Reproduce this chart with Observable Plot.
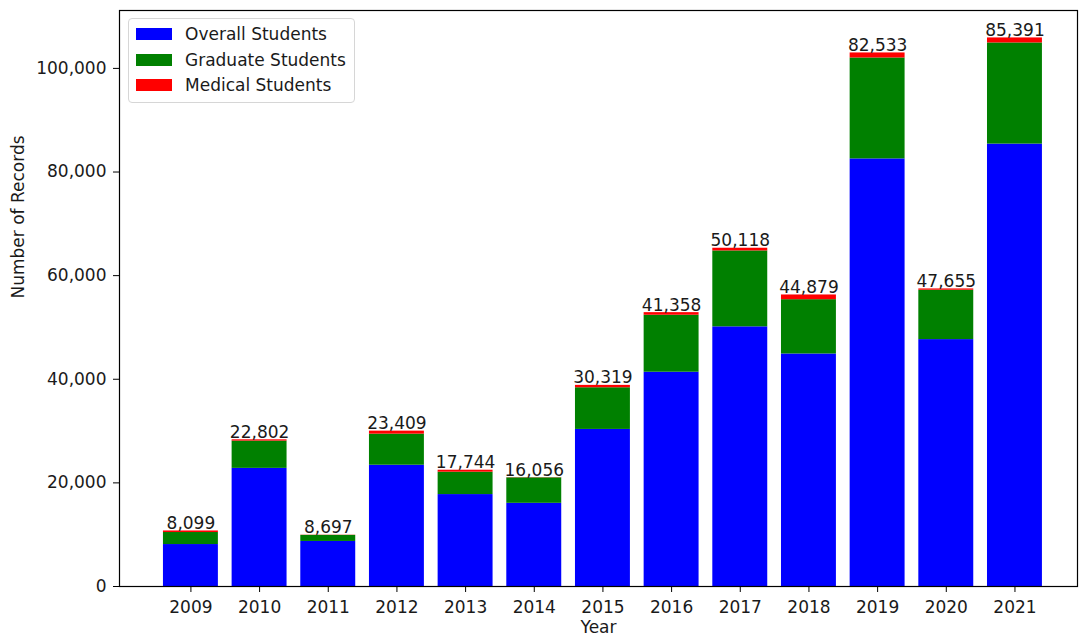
<!DOCTYPE html>
<html>
<head>
<meta charset="utf-8">
<script src="https://cdn.jsdelivr.net/npm/d3@7"></script>
<script src="https://cdn.jsdelivr.net/npm/@observablehq/plot@0.6"></script>
<style>
  body { margin: 0; background: #fff; font-family: "DejaVu Sans", sans-serif; }
  #wrap { position: relative; width: 1079px; height: 640px; }
  .legend { position: absolute; left: 128px; top: 18px; width: 227px; height: 85px;
    border: 1px solid #d6d6d6; border-radius: 4px; background: rgba(255,255,255,0.85); box-sizing: border-box; }
  .item { position: absolute; left: 7px; height: 20px; display: flex; align-items: center;
    font-size: 17px; color: #1a1a1a; white-space: nowrap; }
  .sw { width: 36px; height: 12px; margin-right: 13px; }
</style>
</head>
<body>
<div id="wrap"></div>
<script>
const years = [2009, 2010, 2011, 2012, 2013, 2014, 2015, 2016, 2017, 2018, 2019, 2020, 2021];
const overall = [8099, 22802, 8697, 23409, 17744, 16056, 30319, 41358, 50118, 44879, 82533, 47655, 85391];
const graduate = [2320, 5260, 1170, 6000, 4320, 4910, 8040, 11000, 14650, 10480, 19480, 9530, 19520];
const medical = [300, 250, 40, 580, 380, 40, 460, 500, 520, 910, 970, 250, 970];
const seriesNames = ["Overall Students", "Graduate Students", "Medical Students"];
const seriesColors = ["#0000ff", "#008000", "#ff0000"];
const yTicks = [0, 20000, 40000, 60000, 80000, 100000];

// build stacked table
const rows = [];
years.forEach((yr, i) => {
  const vals = [overall[i], graduate[i], medical[i]];
  let base = 0;
  vals.forEach((v, s) => {
    rows.push({year: yr, series: seriesNames[s], y1: base, y2: base + v});
    base += v;
  });
});
const labels = years.map((yr, i) => ({year: yr, top: overall[i] + graduate[i] + medical[i], value: overall[i]}));
const maxTop = d3.max(labels, d => d.top);

const W = 1079, H = 640, mL = 119, mR = 2;
const step = 68.67;
const xMin = years[0] - 0.4 - 0.64;
const xMax = xMin + (W - mL - mR) / step;
const fs = 17;
const txt = "#1a1a1a";
const comma = d3.format(",");

const chart = Plot.plot({
  width: W,
  height: H,
  marginLeft: mL,
  marginRight: mR,
  marginTop: 10,
  marginBottom: 54,
  style: {fontFamily: "DejaVu Sans, sans-serif", fontSize: fs + "px", color: txt, background: "#fff"},
  x: {type: "linear", domain: [xMin, xMax]},
  y: {domain: [0, maxTop * 1.05]},
  color: {domain: seriesNames, range: seriesColors},
  marks: [
    Plot.rectY(rows, {x1: d => d.year - 0.4, x2: d => d.year + 0.4, y1: "y1", y2: "y2", fill: "series"}),
    Plot.text(labels, {x: "year", y: "top", text: d => comma(d.value), lineAnchor: "bottom", dy: -2, fill: txt, fontSize: fs}),
    Plot.axisX({ticks: years, tickFormat: d => String(d), tickSize: 6, tickPadding: 8, label: null, fontSize: fs, stroke: "#000", fill: txt}),
    Plot.axisY({ticks: yTicks, tickFormat: d => comma(d), tickSize: 6, tickPadding: 7, label: null, fontSize: fs, stroke: "#000", fill: txt}),
    Plot.frame({stroke: "#000", strokeWidth: 1.2}),
    Plot.text(["Year"], {frameAnchor: "bottom", dy: 46, fill: txt, fontSize: fs}),
    Plot.text(["Number of Records"], {frameAnchor: "left", dx: -101, rotate: -90, fill: txt, fontSize: fs})
  ]
});

const wrap = document.getElementById("wrap");
wrap.appendChild(chart);

const legend = document.createElement("div");
legend.className = "legend";
seriesNames.forEach((name, i) => {
  const it = document.createElement("div");
  it.className = "item";
  it.style.top = (5 + i * 25.5) + "px";
  const sw = document.createElement("div");
  sw.className = "sw";
  sw.style.background = seriesColors[i];
  it.appendChild(sw);
  it.appendChild(document.createTextNode(name));
  legend.appendChild(it);
});
wrap.appendChild(legend);
</script>
</body>
</html>
